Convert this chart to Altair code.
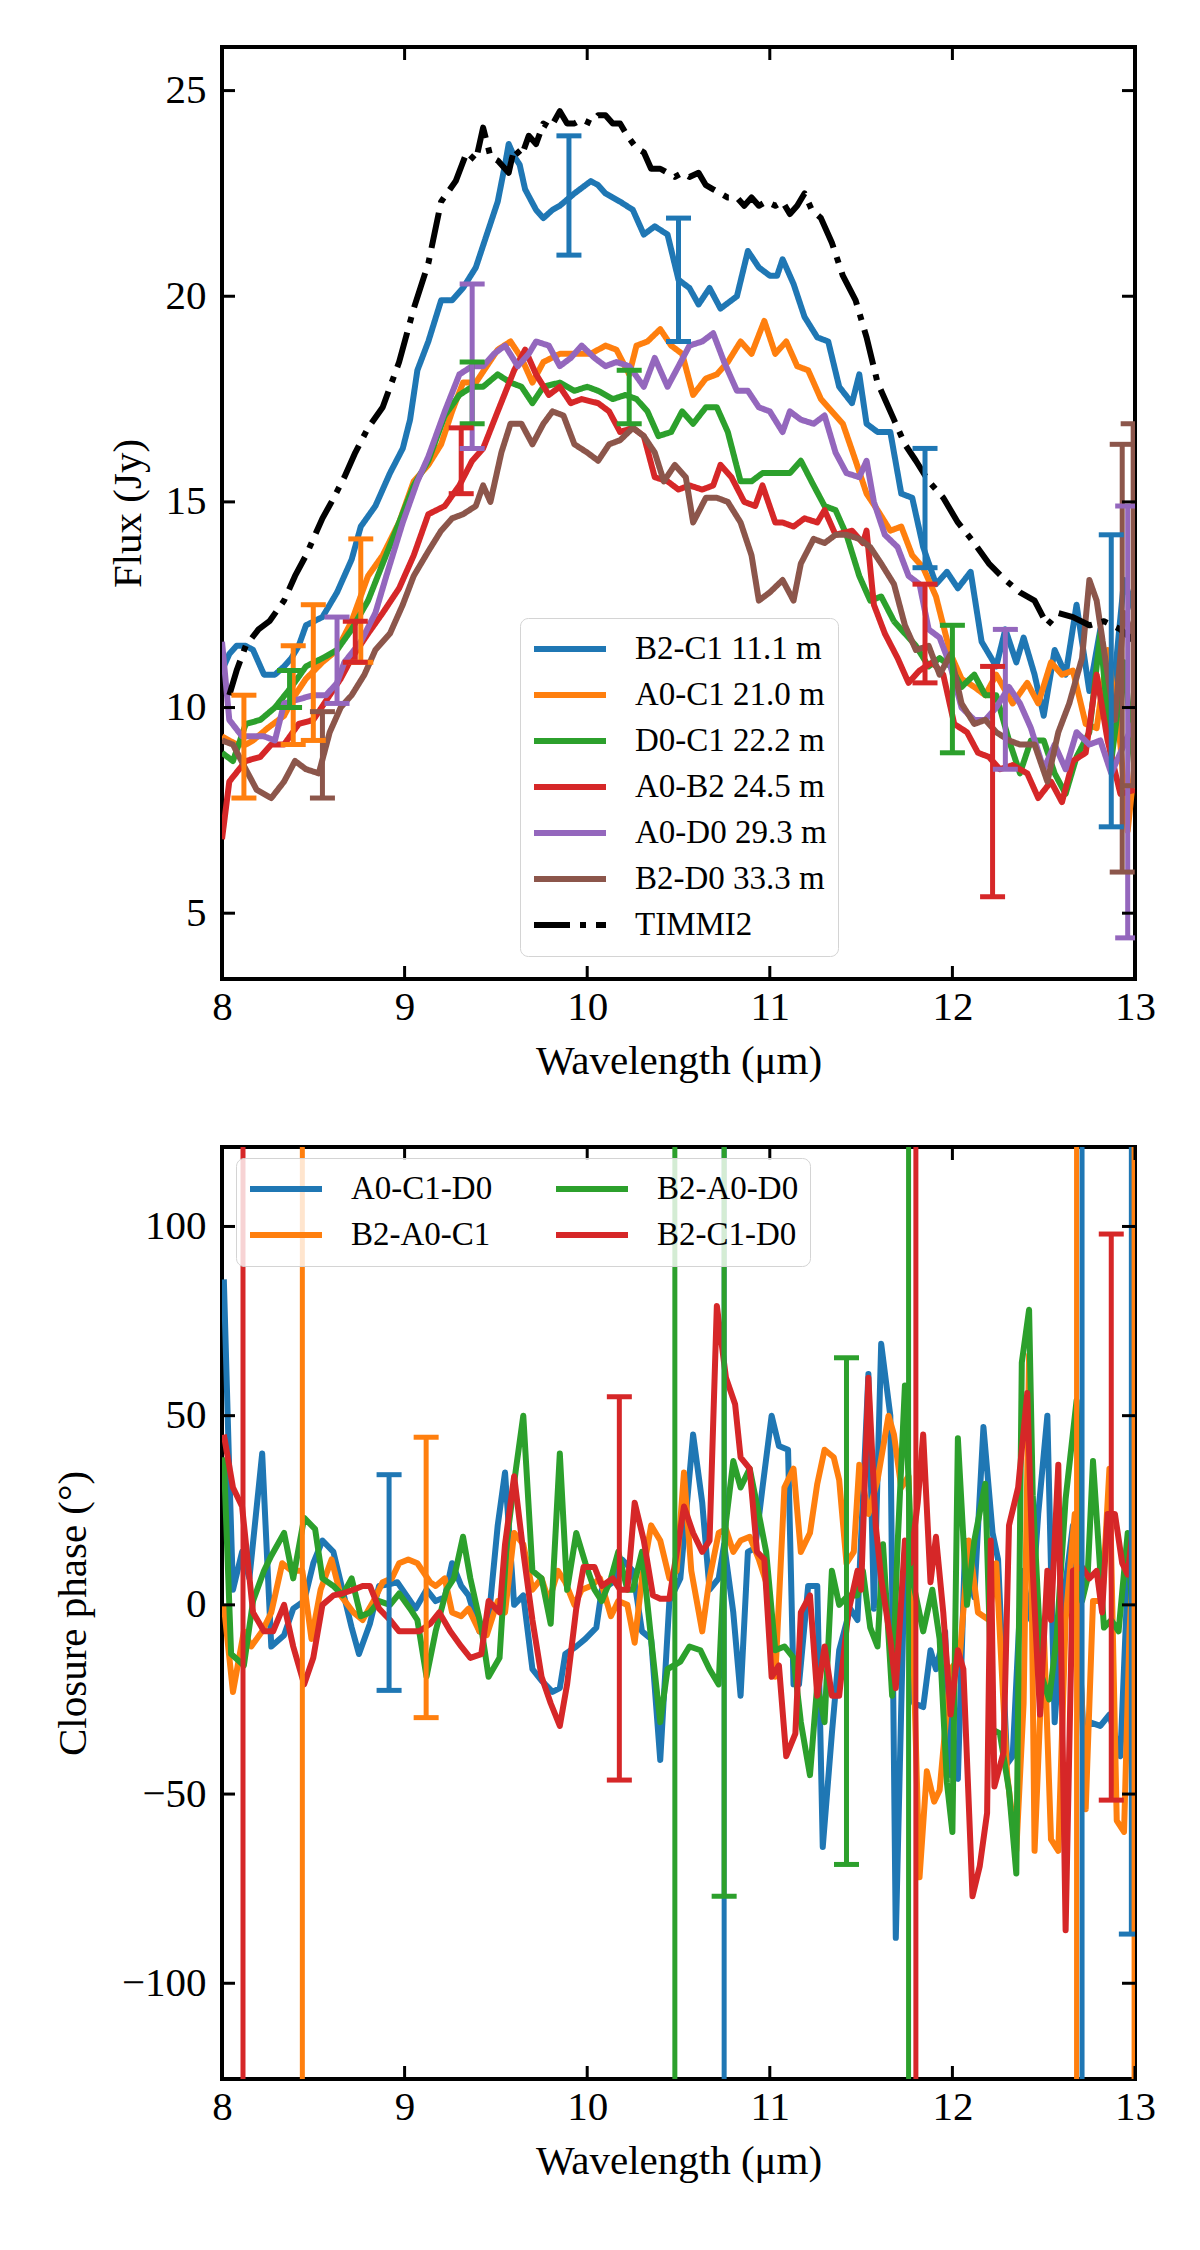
import altair as alt
import pandas as pd

FONT = "Liberation Serif"
W, H = 913, 932
TICK = 13

# ---------------- data: top panel (flux) ----------------
top_names = ["B2-C1 11.1 m", "A0-C1 21.0 m", "D0-C1 22.2 m", "A0-B2 24.5 m",
             "A0-D0 29.3 m", "B2-D0 33.3 m", "TIMMI2"]
top_colors = ["#1f77b4", "#ff7f0e", "#2ca02c", "#d62728", "#9467bd", "#8c564b", "#000000"]
top_dashes = [[1, 0], [1, 0], [1, 0], [1, 0], [1, 0], [1, 0], [36, 10, 6, 10]]

b2c1 = [(8.0, 10.9), (8.04, 11.3), (8.08, 11.5), (8.13, 11.5), (8.17, 11.4), (8.23, 10.8), (8.29, 10.8),
        (8.34, 11.0), (8.38, 11.2), (8.42, 11.5), (8.46, 12.0), (8.55, 12.2), (8.63, 12.8), (8.71, 13.6),
        (8.76, 14.4), (8.84, 14.9), (8.92, 15.7), (8.99, 16.3), (9.03, 17.0), (9.07, 18.2), (9.13, 18.9),
        (9.2, 19.9), (9.26, 19.9), (9.32, 20.2), (9.39, 20.7), (9.45, 21.5), (9.51, 22.3), (9.55, 23.2),
        (9.57, 23.7), (9.6, 23.4), (9.63, 23.2), (9.66, 22.6), (9.72, 22.1), (9.76, 21.9), (9.81, 22.1),
        (9.85, 22.2), (9.93, 22.5), (10.02, 22.8), (10.06, 22.7), (10.1, 22.5), (10.18, 22.3), (10.25, 22.1),
        (10.31, 21.5), (10.37, 21.7), (10.44, 21.5), (10.5, 20.4), (10.56, 20.2), (10.61, 19.8), (10.67, 20.2),
        (10.73, 19.7), (10.82, 20.0), (10.88, 21.1), (10.94, 20.7), (11.0, 20.5), (11.04, 20.5), (11.07, 20.9),
        (11.13, 20.3), (11.19, 19.5), (11.26, 19.0), (11.32, 18.9), (11.38, 17.8), (11.45, 17.4), (11.49, 18.1),
        (11.53, 16.9), (11.59, 16.7), (11.66, 16.7), (11.72, 15.2), (11.78, 15.1), (11.84, 13.9), (11.91, 13.0),
        (11.97, 13.3), (12.03, 12.9), (12.1, 13.3), (12.16, 11.6), (12.24, 11.0), (12.29, 11.9), (12.35, 11.1),
        (12.39, 11.7), (12.45, 10.8), (12.5, 9.8), (12.56, 11.4), (12.62, 10.8), (12.68, 12.5), (12.75, 10.4),
        (12.81, 11.9), (12.87, 9.9), (12.94, 13.1), (13.0, 12.3)]

a0c1 = [(8.0, 9.3), (8.04, 9.2), (8.08, 9.1), (8.13, 9.1), (8.17, 9.2), (8.25, 9.5), (8.34, 9.8), (8.4, 10.3),
        (8.46, 10.7), (8.55, 11.1), (8.63, 11.4), (8.71, 12.1), (8.8, 13.2), (8.88, 13.7), (8.97, 14.5),
        (9.05, 15.5), (9.13, 15.9), (9.2, 16.4), (9.26, 17.2), (9.32, 17.9), (9.39, 17.9), (9.45, 18.3),
        (9.51, 18.7), (9.58, 18.9), (9.64, 18.5), (9.7, 17.9), (9.76, 18.4), (9.85, 18.6), (9.93, 18.6),
        (10.02, 18.6), (10.1, 18.8), (10.16, 18.7), (10.23, 18.1), (10.27, 18.8), (10.33, 18.9), (10.4, 19.2),
        (10.46, 18.8), (10.52, 18.6), (10.58, 17.6), (10.65, 18.0), (10.71, 18.1), (10.77, 18.4), (10.84, 18.9),
        (10.9, 18.6), (10.97, 19.4), (11.03, 18.6), (11.09, 18.9), (11.15, 18.3), (11.21, 18.2), (11.28, 17.5),
        (11.34, 17.2), (11.4, 16.9), (11.47, 16.0), (11.53, 15.2), (11.59, 14.8), (11.66, 14.3), (11.72, 14.4),
        (11.78, 13.7), (11.84, 13.4), (11.91, 12.7), (11.99, 11.3), (12.05, 10.7), (12.12, 10.5), (12.18, 10.3),
        (12.24, 10.8), (12.33, 10.1), (12.41, 10.6), (12.47, 10.1), (12.54, 11.1), (12.6, 10.8), (12.66, 10.9),
        (12.73, 9.6), (12.79, 9.5), (12.85, 11.4), (12.92, 9.1), (12.96, 7.0), (13.0, 8.7)]

d0c1 = [(8.0, 8.9), (8.06, 8.7), (8.13, 9.6), (8.21, 9.7), (8.29, 10.0), (8.38, 10.5), (8.46, 11.0), (8.55, 11.2),
        (8.63, 11.4), (8.71, 11.9), (8.8, 12.6), (8.88, 13.5), (8.97, 14.5), (9.05, 15.4), (9.13, 16.0),
        (9.22, 17.1), (9.3, 17.6), (9.37, 17.8), (9.43, 17.8), (9.51, 18.1), (9.58, 17.9), (9.64, 17.8),
        (9.7, 17.4), (9.76, 17.8), (9.85, 17.9), (9.93, 17.7), (10.0, 17.8), (10.06, 17.7), (10.14, 17.5),
        (10.21, 17.6), (10.27, 17.5), (10.33, 17.2), (10.39, 16.6), (10.46, 16.7), (10.52, 17.2), (10.58, 16.9),
        (10.65, 17.3), (10.71, 17.3), (10.77, 16.7), (10.84, 15.5), (10.9, 15.5), (10.96, 15.7), (11.03, 15.7),
        (11.11, 15.7), (11.17, 16.0), (11.24, 15.4), (11.3, 14.9), (11.36, 14.8), (11.42, 14.2), (11.49, 13.2),
        (11.55, 12.6), (11.61, 12.7), (11.68, 12.1), (11.74, 11.8), (11.8, 11.5), (11.87, 11.0), (11.93, 11.2),
        (11.99, 11.0), (12.05, 10.5), (12.12, 10.8), (12.18, 10.3), (12.24, 10.3), (12.31, 9.2), (12.37, 8.4),
        (12.43, 9.2), (12.5, 9.2), (12.56, 8.4), (12.62, 7.9), (12.68, 8.8), (12.75, 9.4), (12.81, 11.8),
        (12.87, 8.7), (12.94, 11.1), (13.0, 8.4)]

a0b2 = [(8.0, 6.8), (8.04, 8.2), (8.13, 8.7), (8.21, 8.8), (8.27, 9.1), (8.34, 9.1), (8.42, 9.6), (8.5, 9.7),
        (8.59, 10.3), (8.65, 10.7), (8.71, 11.2), (8.8, 11.8), (8.88, 12.3), (8.97, 12.9), (9.05, 13.7),
        (9.13, 14.7), (9.22, 14.9), (9.3, 15.4), (9.37, 16.0), (9.43, 16.3), (9.51, 17.2), (9.6, 18.2),
        (9.66, 18.7), (9.72, 18.1), (9.79, 17.6), (9.85, 17.8), (9.91, 17.4), (9.97, 17.5), (10.06, 17.4),
        (10.12, 17.2), (10.18, 16.7), (10.25, 16.8), (10.31, 16.6), (10.37, 15.6), (10.44, 15.5), (10.5, 15.3),
        (10.56, 15.4), (10.63, 15.3), (10.69, 15.4), (10.73, 15.9), (10.79, 15.6), (10.86, 15.0), (10.92, 14.9),
        (10.96, 15.4), (11.03, 14.5), (11.07, 14.5), (11.13, 14.4), (11.19, 14.6), (11.26, 14.5), (11.3, 14.8),
        (11.36, 14.2), (11.45, 14.3), (11.51, 14.0), (11.53, 14.3), (11.57, 12.5), (11.63, 11.8), (11.7, 11.2),
        (11.76, 10.6), (11.82, 10.9), (11.89, 11.1), (11.95, 10.8), (12.01, 9.6), (12.08, 9.4), (12.14, 8.9),
        (12.2, 8.8), (12.26, 8.5), (12.33, 8.6), (12.41, 8.4), (12.47, 7.8), (12.54, 8.2), (12.6, 7.7),
        (12.66, 8.7), (12.73, 8.9), (12.79, 10.8), (12.85, 9.2), (12.92, 7.9), (13.0, 8.0)]

a0d0 = [(8.0, 11.6), (8.04, 9.7), (8.11, 9.3), (8.17, 9.3), (8.23, 9.3), (8.29, 9.2), (8.34, 10.1), (8.42, 10.2),
        (8.5, 10.3), (8.57, 10.3), (8.63, 10.6), (8.67, 11.1), (8.76, 11.6), (8.84, 12.3), (8.9, 13.2),
        (8.99, 14.5), (9.07, 15.5), (9.13, 16.1), (9.22, 17.2), (9.3, 18.1), (9.37, 18.3), (9.43, 18.3),
        (9.49, 18.6), (9.55, 18.8), (9.62, 18.3), (9.68, 18.6), (9.72, 18.9), (9.79, 18.8), (9.85, 18.3),
        (9.91, 18.5), (9.97, 18.8), (10.04, 18.5), (10.1, 18.3), (10.16, 18.4), (10.23, 18.3), (10.31, 17.8),
        (10.37, 18.5), (10.44, 17.8), (10.5, 18.3), (10.56, 18.8), (10.63, 18.9), (10.69, 19.1), (10.75, 18.4),
        (10.82, 17.7), (10.88, 17.7), (10.94, 17.3), (11.0, 17.2), (11.07, 16.7), (11.11, 17.2), (11.17, 17.0),
        (11.24, 16.9), (11.3, 17.1), (11.36, 16.2), (11.42, 15.7), (11.49, 15.6), (11.53, 16.0), (11.57, 15.0),
        (11.63, 14.2), (11.7, 13.9), (11.76, 13.2), (11.82, 13.0), (11.87, 11.9), (11.93, 11.7), (11.99, 11.0),
        (12.05, 10.0), (12.12, 9.7), (12.18, 9.7), (12.24, 10.0), (12.31, 10.5), (12.37, 10.1), (12.43, 9.5),
        (12.5, 8.5), (12.56, 9.1), (12.62, 8.5), (12.68, 9.4), (12.75, 9.1), (12.81, 9.2), (12.87, 8.4),
        (12.94, 9.1), (13.0, 9.7)]

b2d0 = [(8.0, 9.2), (8.06, 9.1), (8.13, 8.5), (8.19, 8.0), (8.27, 7.8), (8.34, 8.2), (8.4, 8.7), (8.46, 8.5),
        (8.53, 8.4), (8.59, 9.4), (8.65, 10.0), (8.71, 10.3), (8.78, 10.8), (8.84, 11.4), (8.92, 11.8),
        (8.99, 12.5), (9.05, 13.2), (9.13, 13.8), (9.2, 14.3), (9.26, 14.6), (9.32, 14.7), (9.39, 14.9),
        (9.43, 15.4), (9.47, 15.0), (9.53, 16.2), (9.58, 16.9), (9.64, 16.9), (9.7, 16.4), (9.76, 16.9),
        (9.81, 17.2), (9.87, 17.1), (9.93, 16.4), (10.0, 16.2), (10.06, 16.0), (10.12, 16.4), (10.18, 16.5),
        (10.25, 16.8), (10.31, 16.6), (10.37, 16.2), (10.42, 15.5), (10.48, 15.9), (10.54, 15.6), (10.58, 14.5),
        (10.65, 15.1), (10.71, 15.1), (10.77, 15.0), (10.84, 14.5), (10.9, 13.7), (10.94, 12.6), (11.0, 12.8),
        (11.07, 13.1), (11.13, 12.6), (11.17, 13.5), (11.24, 14.1), (11.3, 14.0), (11.36, 14.2), (11.42, 14.2),
        (11.49, 14.1), (11.55, 13.9), (11.61, 13.5), (11.68, 13.0), (11.74, 12.0), (11.8, 11.4), (11.87, 11.5),
        (11.93, 10.8), (11.99, 11.3), (12.05, 10.1), (12.12, 9.6), (12.18, 9.7), (12.24, 9.4), (12.31, 9.2),
        (12.37, 9.1), (12.45, 9.1), (12.52, 8.2), (12.58, 9.4), (12.64, 10.1), (12.71, 11.2), (12.75, 13.1),
        (12.79, 12.6), (12.85, 10.8), (12.89, 9.7), (12.94, 12.3), (13.0, 11.6)]

timmi2 = [(8.04, 10.3), (8.08, 10.9), (8.13, 11.5), (8.2, 11.9), (8.26, 12.1), (8.34, 12.6), (8.4, 13.2),
          (8.46, 13.7), (8.55, 14.6), (8.6, 15.0), (8.67, 15.6), (8.73, 16.2), (8.8, 16.8), (8.88, 17.3),
          (8.97, 18.4), (9.05, 19.7), (9.13, 20.8), (9.2, 22.3), (9.28, 22.8), (9.34, 23.5), (9.39, 23.3),
          (9.43, 24.1), (9.47, 23.4), (9.51, 23.3), (9.57, 23.0), (9.6, 23.6), (9.64, 23.4), (9.68, 23.9),
          (9.72, 23.7), (9.76, 24.2), (9.8, 24.1), (9.85, 24.5), (9.89, 24.2), (9.93, 24.2), (9.97, 24.3),
          (10.02, 24.2), (10.06, 24.4), (10.1, 24.4), (10.14, 24.2), (10.18, 24.2), (10.22, 23.9), (10.27, 23.6),
          (10.31, 23.5), (10.35, 23.1), (10.4, 23.1), (10.44, 23.0), (10.48, 22.9), (10.52, 23.0), (10.56, 22.9),
          (10.61, 23.0), (10.65, 22.7), (10.69, 22.6), (10.73, 22.5), (10.77, 22.4), (10.82, 22.4), (10.86, 22.2),
          (10.9, 22.4), (10.94, 22.2), (10.98, 22.3), (11.03, 22.2), (11.07, 22.3), (11.11, 22.0), (11.15, 22.2),
          (11.19, 22.5), (11.23, 22.1), (11.28, 21.9), (11.34, 21.3), (11.4, 20.5), (11.47, 19.9), (11.53, 19.0),
          (11.59, 17.9), (11.68, 17.0), (11.74, 16.4), (11.8, 16.0), (11.87, 15.5), (11.95, 15.1), (12.03, 14.5),
          (12.12, 14.0), (12.2, 13.5), (12.29, 13.1), (12.37, 12.8), (12.45, 12.6), (12.52, 12.0), (12.58, 12.3),
          (12.66, 12.2), (12.75, 12.0), (12.83, 12.1), (12.92, 11.9), (13.0, 11.6)]

# error bars: (wavelength, low, high)
top_err = {
    "B2-C1 11.1 m": [(9.90, 21.0, 23.9), (10.50, 18.9, 21.9), (11.85, 13.4, 16.3), (12.87, 7.1, 14.2)],
    "A0-C1 21.0 m": [(8.12, 7.8, 10.3), (8.39, 9.1, 11.5), (8.50, 9.2, 12.5), (8.76, 11.1, 14.1)],
    "D0-C1 22.2 m": [(8.37, 10.0, 10.9), (9.37, 16.9, 18.4), (10.23, 16.9, 18.2), (12.0, 8.9, 12.0)],
    "A0-B2 24.5 m": [(8.73, 11.1, 12.1), (9.31, 15.2, 16.8), (11.85, 10.6, 13.0), (12.22, 5.4, 11.0)],
    "A0-D0 29.3 m": [(8.63, 10.1, 12.2), (9.37, 16.3, 20.3), (12.29, 8.5, 11.9), (12.96, 4.4, 14.9)],
    "B2-D0 33.3 m": [(8.55, 7.8, 9.9), (12.93, 6.0, 16.4), (12.99, 8.1, 16.9)],
}

# ---------------- data: bottom panel (closure phase) ----------------
bot_names = ["A0-C1-D0", "B2-A0-C1", "B2-A0-D0", "B2-C1-D0"]
bot_colors = ["#1f77b4", "#ff7f0e", "#2ca02c", "#d62728"]

a0c1d0 = [(8.01, 86), (8.04, 35), (8.06, 4), (8.11, 14), (8.15, 7), (8.22, 40), (8.27, -11), (8.34, -8),
          (8.39, -1), (8.45, 1), (8.5, 11), (8.55, 17), (8.61, 14), (8.66, 4), (8.71, -6), (8.75, -13),
          (8.81, -5), (8.86, 5), (8.92, 5.5), (8.96, 6), (9.01, 2.5), (9.06, -1), (9.12, 4), (9.17, 1),
          (9.22, 2), (9.26, 11), (9.31, 5), (9.35, 2.5), (9.41, -7), (9.46, -4), (9.51, 21), (9.55, 35),
          (9.6, 0), (9.65, 2.5), (9.7, -17), (9.75, -20), (9.81, -23), (9.85, -22), (9.88, -13), (9.94, -11),
          (9.99, -9), (10.05, -6), (10.08, 4), (10.14, 6), (10.19, 12), (10.25, 9), (10.3, -7), (10.35, -9),
          (10.4, -41), (10.45, 1), (10.51, 7), (10.58, 45), (10.63, 27), (10.67, 4), (10.72, 7), (10.75, 16),
          (10.8, -2), (10.84, -24), (10.88, 14), (10.92, 15), (10.96, 31), (11.01, 50), (11.05, 42), (11.1, 41),
          (11.13, -21), (11.16, -21), (11.21, 5), (11.26, 5), (11.29, -64), (11.34, -34), (11.38, -12),
          (11.44, -1), (11.48, -4), (11.54, 61), (11.57, -1), (11.61, 69), (11.66, 50), (11.69, -88),
          (11.74, 14), (11.79, -26), (11.84, -27), (11.88, -12), (11.91, -17), (11.96, -7), (11.99, -45),
          (12.03, -46), (12.07, 17), (12.12, 2), (12.17, 47), (12.22, 19), (12.25, 12), (12.3, -42),
          (12.33, -40), (12.38, 9), (12.43, -4), (12.47, 24), (12.52, 50), (12.56, -31), (12.61, 2),
          (12.66, 21), (12.72, -36), (12.75, -31), (12.81, -32), (12.86, -29), (12.92, -40), (12.96, 7),
          (12.99, -36)]

b2a0c1 = [(8.01, 0), (8.06, -23), (8.12, -7), (8.16, -11), (8.22, -7), (8.27, -2), (8.33, 11), (8.38, 9),
          (8.44, 9), (8.49, -9), (8.54, 4), (8.6, 12), (8.65, 2.5), (8.72, -2), (8.77, -4), (8.83, 1),
          (8.88, 6), (8.93, 7), (8.97, 11), (9.02, 12), (9.07, 11), (9.14, 6), (9.17, 5), (9.22, 7),
          (9.26, -2), (9.31, -3), (9.35, -1), (9.41, -7), (9.45, -8), (9.51, 1), (9.55, -2), (9.6, 19),
          (9.65, 16), (9.7, 4), (9.75, 7), (9.79, 1), (9.84, 9), (9.88, 6), (9.93, 0), (9.97, 4), (10.02, 5),
          (10.07, 7), (10.13, -3), (10.17, 1), (10.22, 0), (10.26, -10), (10.3, 7), (10.35, 21), (10.4, 17),
          (10.45, 7), (10.49, 9), (10.53, 35), (10.57, 9), (10.63, -7), (10.67, 7), (10.72, 19), (10.76, 20),
          (10.8, 14), (10.84, 17), (10.89, 18), (10.94, 12), (10.98, 6), (11.03, -19), (11.08, 31),
          (11.13, 36), (11.17, 14), (11.22, 19), (11.26, 32), (11.3, 41), (11.35, 39), (11.38, 33),
          (11.42, 11), (11.46, 14), (11.49, 37), (11.54, 24), (11.59, 33), (11.65, 50), (11.68, 45),
          (11.72, 31), (11.76, 34), (11.82, -72), (11.86, -44), (11.9, -52), (11.93, -49), (11.99, -17),
          (12.04, -14), (12.09, 17), (12.14, -2), (12.2, -4), (12.24, 11), (12.3, -45), (12.35, -65),
          (12.39, -26), (12.42, 66), (12.45, -65), (12.5, -6), (12.54, -62), (12.58, -65), (12.62, -4),
          (12.67, 24), (12.73, -54), (12.77, 1), (12.82, 1), (12.86, 36), (12.9, -57), (12.94, -60),
          (12.97, -7), (13.0, 20)]

b2a0d0 = [(8.01, 39), (8.05, -13), (8.12, -16), (8.17, 1), (8.23, 9), (8.27, 13), (8.34, 19), (8.39, 7),
          (8.45, 23), (8.51, 20), (8.55, 7), (8.61, 5), (8.66, 2.5), (8.71, 7), (8.76, -3), (8.81, -2),
          (8.86, 1), (8.92, 0), (8.97, 3), (9.03, -1), (9.07, -4), (9.12, -19), (9.17, -7), (9.23, 4),
          (9.27, 7), (9.32, 18), (9.36, 7), (9.42, -6), (9.46, -19), (9.52, -14), (9.56, 17), (9.61, 36),
          (9.65, 50), (9.7, 9), (9.75, 7), (9.8, -5), (9.85, 40), (9.89, 4), (9.94, 19), (9.99, 11), (10.04, 4),
          (10.08, 1), (10.13, 7), (10.17, 14), (10.22, 4), (10.25, 4), (10.3, 14), (10.35, -9), (10.4, -31),
          (10.44, -17), (10.51, -15), (10.56, -11), (10.62, -12), (10.67, -17), (10.72, -21), (10.76, 22),
          (10.8, 38), (10.84, 31), (10.89, 36), (10.94, 24), (10.98, 14), (11.03, -12), (11.08, -11),
          (11.13, -14), (11.17, -31), (11.22, -45), (11.26, -21), (11.3, -31), (11.34, 9), (11.38, 0),
          (11.43, 2.5), (11.48, 2.5), (11.51, 9), (11.55, -6), (11.59, -11), (11.62, 16), (11.67, -24),
          (11.7, 16), (11.74, 58), (11.78, 7), (11.84, -7), (11.89, 4), (11.93, -9), (11.97, -47), (12.0, -60),
          (12.03, 44), (12.08, 0), (12.12, 17), (12.18, 32), (12.22, -33), (12.26, -34), (12.31, -49),
          (12.35, -71), (12.38, 64), (12.42, 78), (12.44, 29), (12.49, -19), (12.53, -25), (12.57, -9),
          (12.62, 28), (12.68, 54), (12.71, 1), (12.74, 7), (12.77, 38), (12.83, -6), (12.87, -4), (12.91, -7),
          (12.96, 19), (12.99, -6)]

b2c1d0 = [(8.01, 45), (8.06, 31), (8.11, 26), (8.17, -2), (8.23, -7), (8.28, -7), (8.34, 0), (8.39, -11),
          (8.45, -21), (8.5, -14), (8.55, 0), (8.61, 2.5), (8.66, 3), (8.72, 4), (8.77, 5), (8.81, 5),
          (8.86, -1), (8.92, -4), (8.97, -7), (9.03, -7), (9.08, -7), (9.14, -5), (9.19, -2), (9.25, -7),
          (9.31, -11), (9.36, -14), (9.42, -13), (9.46, 1), (9.52, -2), (9.55, 16), (9.6, 34), (9.65, 14),
          (9.7, -4), (9.75, -19), (9.8, -26), (9.85, -32), (9.89, -21), (9.94, -1), (9.98, 10), (10.04, 10),
          (10.08, 5), (10.14, 7), (10.18, 4), (10.22, 4), (10.26, 27), (10.31, 17), (10.36, 2.5), (10.4, 1.6),
          (10.45, 1.6), (10.53, 26), (10.58, 19), (10.63, 14), (10.67, 17), (10.71, 79), (10.76, 60),
          (10.81, 53), (10.84, 39), (10.89, 36), (10.93, 14), (10.97, 12), (11.01, -19), (11.05, -16),
          (11.09, -40), (11.14, -34), (11.17, -2), (11.22, 2.5), (11.26, -24), (11.3, -11), (11.34, -24),
          (11.38, -24), (11.43, -2), (11.48, 9), (11.5, 4), (11.54, 60), (11.58, 21), (11.61, 7), (11.66, -9),
          (11.69, -22), (11.74, 17), (11.77, 11), (11.81, 27), (11.84, 45), (11.88, 6), (11.91, 18),
          (11.95, -2), (11.99, -29), (12.03, -12), (12.06, -17), (12.11, -77), (12.15, -69), (12.19, -55),
          (12.21, 17), (12.23, -48), (12.28, -39), (12.31, 21), (12.36, 31), (12.41, 56), (12.44, 9),
          (12.48, -29), (12.52, 9), (12.54, -4), (12.58, 37), (12.62, -86), (12.66, 9), (12.71, 10),
          (12.75, 7), (12.79, 9), (12.82, -2), (12.85, 24), (12.89, 24), (12.93, 11), (12.96, 8), (12.99, 21)]

bot_err = {
    "A0-C1-D0": [(8.915, -22.6, 34.4), (10.75, -400, 400), (12.71, -400, 400), (12.98, -87, 400)],
    "B2-A0-C1": [(8.44, -400, 400), (9.118, -29.8, 44.3), (12.68, -400, 400), (12.995, -400, 400)],
    "B2-A0-D0": [(10.48, -400, 400), (10.75, -77, 400), (11.42, -68.6, 65.3), (11.76, -400, 400)],
    "B2-C1-D0": [(8.115, -400, 400), (10.176, -46.3, 55), (11.80, -400, 400), (12.87, -51.6, 98)],
}

XTICKS = [8, 9, 10, 11, 12, 13]
TOP_YTICKS = [5, 10, 15, 20, 25]
BOT_YTICKS = [-100, -50, 0, 50, 100]


def lines_frame(named):
    rows = []
    for k, (name, pts) in enumerate(named):
        for wl, v in pts:
            rows.append({"series": name, "wl": wl, "v": v, "k": k})
    return pd.DataFrame(rows)


def err_frame(errs):
    rows = []
    for name, bars in errs.items():
        for wl, lo, hi in bars:
            rows.append({"series": name, "wl": wl, "lo": lo, "hi": hi})
    return pd.DataFrame(rows)


def panel(line_df, e_df, ydom, yticks, ytitle, ytitle_pad, cscale, dscale, legend):
    xs = alt.Scale(domain=[8, 13], nice=False, zero=False)
    ys = alt.Scale(domain=ydom, nice=False, zero=False)
    xax = alt.Axis(values=XTICKS, title="Wavelength (μm)", labelFlush=False, domain=False, ticks=False,
                   grid=False, labelPadding=8, titlePadding=14, format="d")
    yax = alt.Axis(values=yticks, title=ytitle, domain=False, ticks=False, grid=False,
                   labelPadding=16, titlePadding=ytitle_pad, format="d")
    enc = dict(
        x=alt.X("wl:Q", scale=xs, axis=xax),
        y=alt.Y("v:Q", scale=ys, axis=yax),
        color=alt.Color("series:N", scale=cscale, legend=legend),
    )
    if dscale is not None:
        enc["strokeDash"] = alt.StrokeDash("series:N", scale=dscale, legend=legend)
    lines = alt.Chart(line_df).mark_line(strokeWidth=6, clip=True, strokeJoin="round").encode(
        detail="k:N", **enc)
    bars = alt.Chart(e_df).mark_rule(strokeWidth=5, clip=True).encode(
        x=alt.X("wl:Q", scale=xs, axis=xax), y=alt.Y("lo:Q", scale=ys, axis=yax), y2="hi:Q",
        color=alt.Color("series:N", scale=cscale, legend=None))
    cap_lo = alt.Chart(e_df).mark_tick(orient="horizontal", size=25, thickness=5, clip=True, opacity=1).encode(
        x=alt.X("wl:Q", scale=xs, axis=xax), y=alt.Y("lo:Q", scale=ys, axis=yax),
        color=alt.Color("series:N", scale=cscale, legend=None))
    cap_hi = alt.Chart(e_df).mark_tick(orient="horizontal", size=25, thickness=5, clip=True, opacity=1).encode(
        x=alt.X("wl:Q", scale=xs, axis=xax), y=alt.Y("hi:Q", scale=ys, axis=yax),
        color=alt.Color("series:N", scale=cscale, legend=None))
    xt = pd.DataFrame({"t": XTICKS})
    yt = pd.DataFrame({"t": yticks})
    tick_style = dict(color="black", strokeWidth=3)
    xb = alt.Chart(xt).mark_rule(**tick_style).encode(
        x=alt.X("t:Q", scale=xs, axis=xax), y=alt.value(H), y2=alt.value(H - TICK))
    xtp = alt.Chart(xt).mark_rule(**tick_style).encode(
        x=alt.X("t:Q", scale=xs, axis=xax), y=alt.value(0), y2=alt.value(TICK))
    yl = alt.Chart(yt).mark_rule(**tick_style).encode(
        y=alt.Y("t:Q", scale=ys, axis=yax), x=alt.value(0), x2=alt.value(TICK))
    yr = alt.Chart(yt).mark_rule(**tick_style).encode(
        y=alt.Y("t:Q", scale=ys, axis=yax), x=alt.value(W), x2=alt.value(W - TICK))
    return alt.layer(lines, bars, cap_lo, cap_hi, xb, xtp, yl, yr).properties(width=W, height=H)


legend_common = dict(
    title=None, orient="none", symbolType="stroke", symbolStrokeWidth=6, symbolSize=5184,
    labelFont=FONT, labelFontSize=33, labelColor="black", labelLimit=600, labelOffset=26,
    fillColor="rgba(255,255,255,0.8)", strokeColor="#d4d4d4", cornerRadius=8, padding=11,
    rowPadding=6, clipHeight=40,
)

top_df = lines_frame(list(zip(top_names, [b2c1, a0c1, d0c1, a0b2, a0d0, b2d0, timmi2])))
top_cscale = alt.Scale(domain=top_names, range=top_colors)
top_dscale = alt.Scale(domain=top_names, range=top_dashes)
top_legend = alt.Legend(legendX=298, legendY=571, **legend_common)
top = panel(top_df, err_frame(top_err), [3.4, 26.06], TOP_YTICKS, "Flux (Jy)", 16,
            top_cscale, top_dscale, top_legend)

bot_df = lines_frame(list(zip(bot_names, [a0c1d0, b2a0c1, b2a0d0, b2c1d0])))
bot_cscale = alt.Scale(domain=bot_names, range=bot_colors)
bot_legend = alt.Legend(legendX=14, legendY=11, columns=2, columnPadding=60, **legend_common)
bottom = panel(bot_df, err_frame(bot_err), [-125.3, 121], BOT_YTICKS, "Closure phase (°)", 27,
               bot_cscale, None, bot_legend)

chart = alt.vconcat(top, bottom, spacing=60).resolve_scale(
    color="independent", strokeDash="independent"
).resolve_legend(
    color="independent", strokeDash="independent"
).properties(
    padding={"left": 42, "top": 35, "right": 20, "bottom": 20},
    background="white",
).configure_view(stroke="black", strokeWidth=4).configure_axis(
    labelFont=FONT, labelFontSize=41, labelColor="black",
    titleFont=FONT, titleFontSize=41, titleFontWeight="normal", titleColor="black",
)

chart.save("out.html", embed_options={"renderer": "svg", "actions": False})
